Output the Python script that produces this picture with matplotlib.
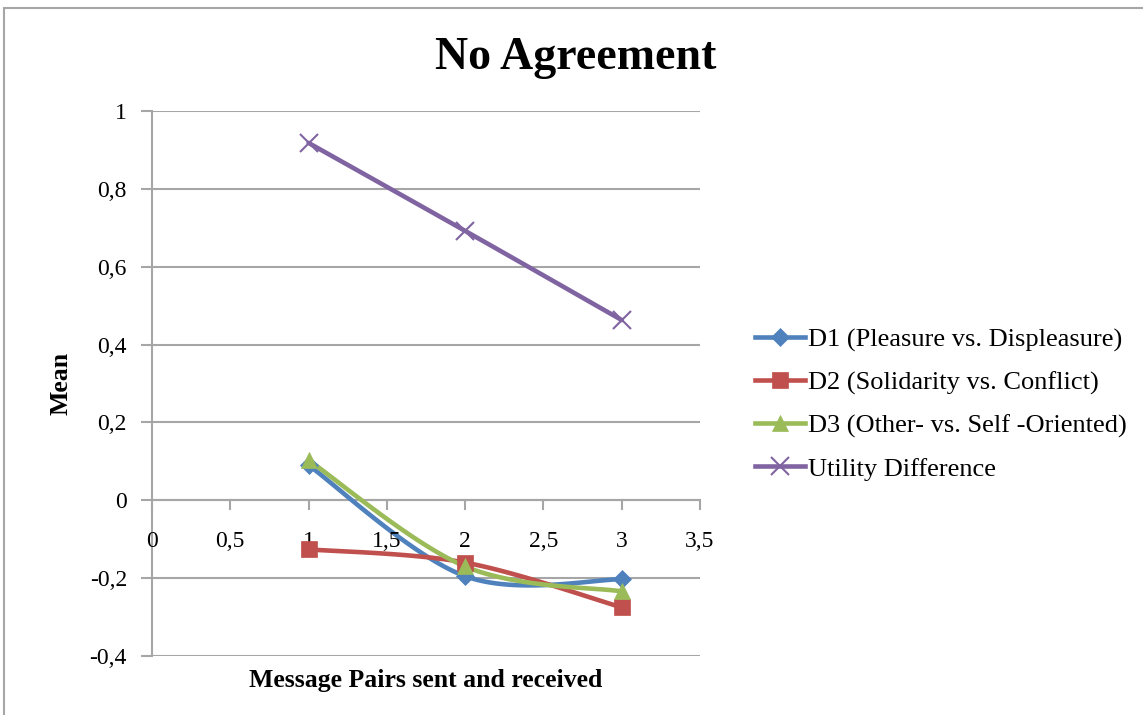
import numpy as np
import matplotlib.pyplot as plt
from matplotlib.patches import Rectangle
from matplotlib.ticker import FuncFormatter, MultipleLocator

plt.rcParams['font.family'] = ['Liberation Serif', 'DejaVu Serif']

# data
x = [1, 2, 3]
d1 = [0.09, -0.195, -0.203]
d2 = [-0.126, -0.16, -0.275]
d3 = [0.103, -0.17, -0.234]
util = [0.918, 0.692, 0.463]
labels = ["D1 (Pleasure vs. Displeasure)", "D2 (Solidarity vs. Conflict)",
          "D3 (Other- vs. Self -Oriented)", "Utility Difference"]
colors = ["#4F81BD", "#C0504D", "#9BBB59", "#8064A2"]
markers = ["D", "s", "^", "x"]
msizes = [9, 12, 12, 13]


def smooth(xs, ys, n=40):
    # Excel-like smoothing: Catmull-Rom style bezier between points
    xs = np.asarray(xs, float)
    ys = np.asarray(ys, float)
    px = np.concatenate([[xs[0]], xs, [xs[-1]]])
    py = np.concatenate([[ys[0]], ys, [ys[-1]]])
    ox, oy = [], []
    t = np.linspace(0, 1, n)
    for i in range(1, len(px) - 2):
        p0 = np.array([px[i], py[i]])
        p3 = np.array([px[i + 1], py[i + 1]])
        p1 = p0 + (np.array([px[i + 1], py[i + 1]]) - np.array([px[i - 1], py[i - 1]])) / 6
        p2 = p3 - (np.array([px[i + 2], py[i + 2]]) - np.array([px[i], py[i]])) / 6
        b = ((1 - t) ** 3)[:, None] * p0 + (3 * (1 - t) ** 2 * t)[:, None] * p1 \
            + (3 * (1 - t) * t ** 2)[:, None] * p2 + (t ** 3)[:, None] * p3
        ox.extend(b[:, 0])
        oy.extend(b[:, 1])
    return ox, oy


fig = plt.figure(figsize=(11.43, 7.15), dpi=100)
fig.patches.append(Rectangle((4 / 1143, -0.01), 1.1, 1 - 8 / 715 + 0.01, transform=fig.transFigure,
                             fill=False, edgecolor="#a6a6a6", linewidth=1.5))
ax = fig.add_axes([152 / 1143, 1 - 656 / 715, 548 / 1143, 545 / 715])

series = [d1, d2, d3, util]
for ys, lab, c, m, ms in zip(series, labels, colors, markers, msizes):
    sx, sy = smooth(x, ys)
    mew = 1.5 if m == "x" else 0.5
    ax.plot(sx, sy, color=c, linewidth=3.3, solid_capstyle="round", zorder=3)
    ax.plot(x, ys, linestyle="none", marker=m, markersize=ms, color=c,
            markeredgewidth=mew, zorder=4)
    ax.plot([], [], color=c, linewidth=3.3, marker=m, markersize=ms, label=lab,
            markeredgewidth=mew)

ax.set_xlim(0, 3.5)
ax.set_ylim(-0.4, 1)
ax.xaxis.set_major_locator(MultipleLocator(0.5))
ax.yaxis.set_major_locator(MultipleLocator(0.2))
fmt = FuncFormatter(lambda v, p: ("%g" % round(v, 2)).replace(".", ","))
ax.yaxis.set_major_formatter(fmt)

ax.grid(axis="y", color="#a6a6a6", linewidth=1.5)
ax.set_axisbelow(True)
for s in ["top", "right", "bottom"]:
    ax.spines[s].set_visible(False)
ax.spines["left"].set_color("#a6a6a6")
ax.spines["left"].set_linewidth(1.5)
ax.axhline(0, color="#a6a6a6", linewidth=1.5, zorder=1)

ax.tick_params(axis="x", bottom=False, labelbottom=False)
ax.tick_params(axis="y", length=8, width=1.5, color="#a6a6a6", labelsize=17, pad=10)
# x axis crosses at y = 0: tick marks and labels drawn there
for xv in np.arange(0, 3.51, 0.5):
    ax.plot([xv, xv], [0, -0.022], color="#a6a6a6", linewidth=1.5, clip_on=False, zorder=1)
    ax.text(xv, -0.105, fmt(xv, None), ha="center", va="center", fontsize=17)

ax.set_xlabel("Message Pairs sent and received", fontsize=18.5, fontweight="bold", labelpad=9)
ax.set_ylabel("Mean", fontsize=18.5, fontweight="bold", labelpad=12)
fig.text(0.504, 1 - 58 / 715, "No Agreement", ha="center", va="center",
         fontsize=33, fontweight="bold")

leg = ax.legend(loc="center left", bbox_to_anchor=(1.0, 0.462), frameon=False,
                fontsize=19, handlelength=1.9, labelspacing=0.73, handletextpad=0.1,
                borderaxespad=0, borderpad=0)
leg.set_bbox_to_anchor((1 + 55 / 548, 0.462), transform=ax.transAxes)

fig.savefig("out.png", dpi=100)
